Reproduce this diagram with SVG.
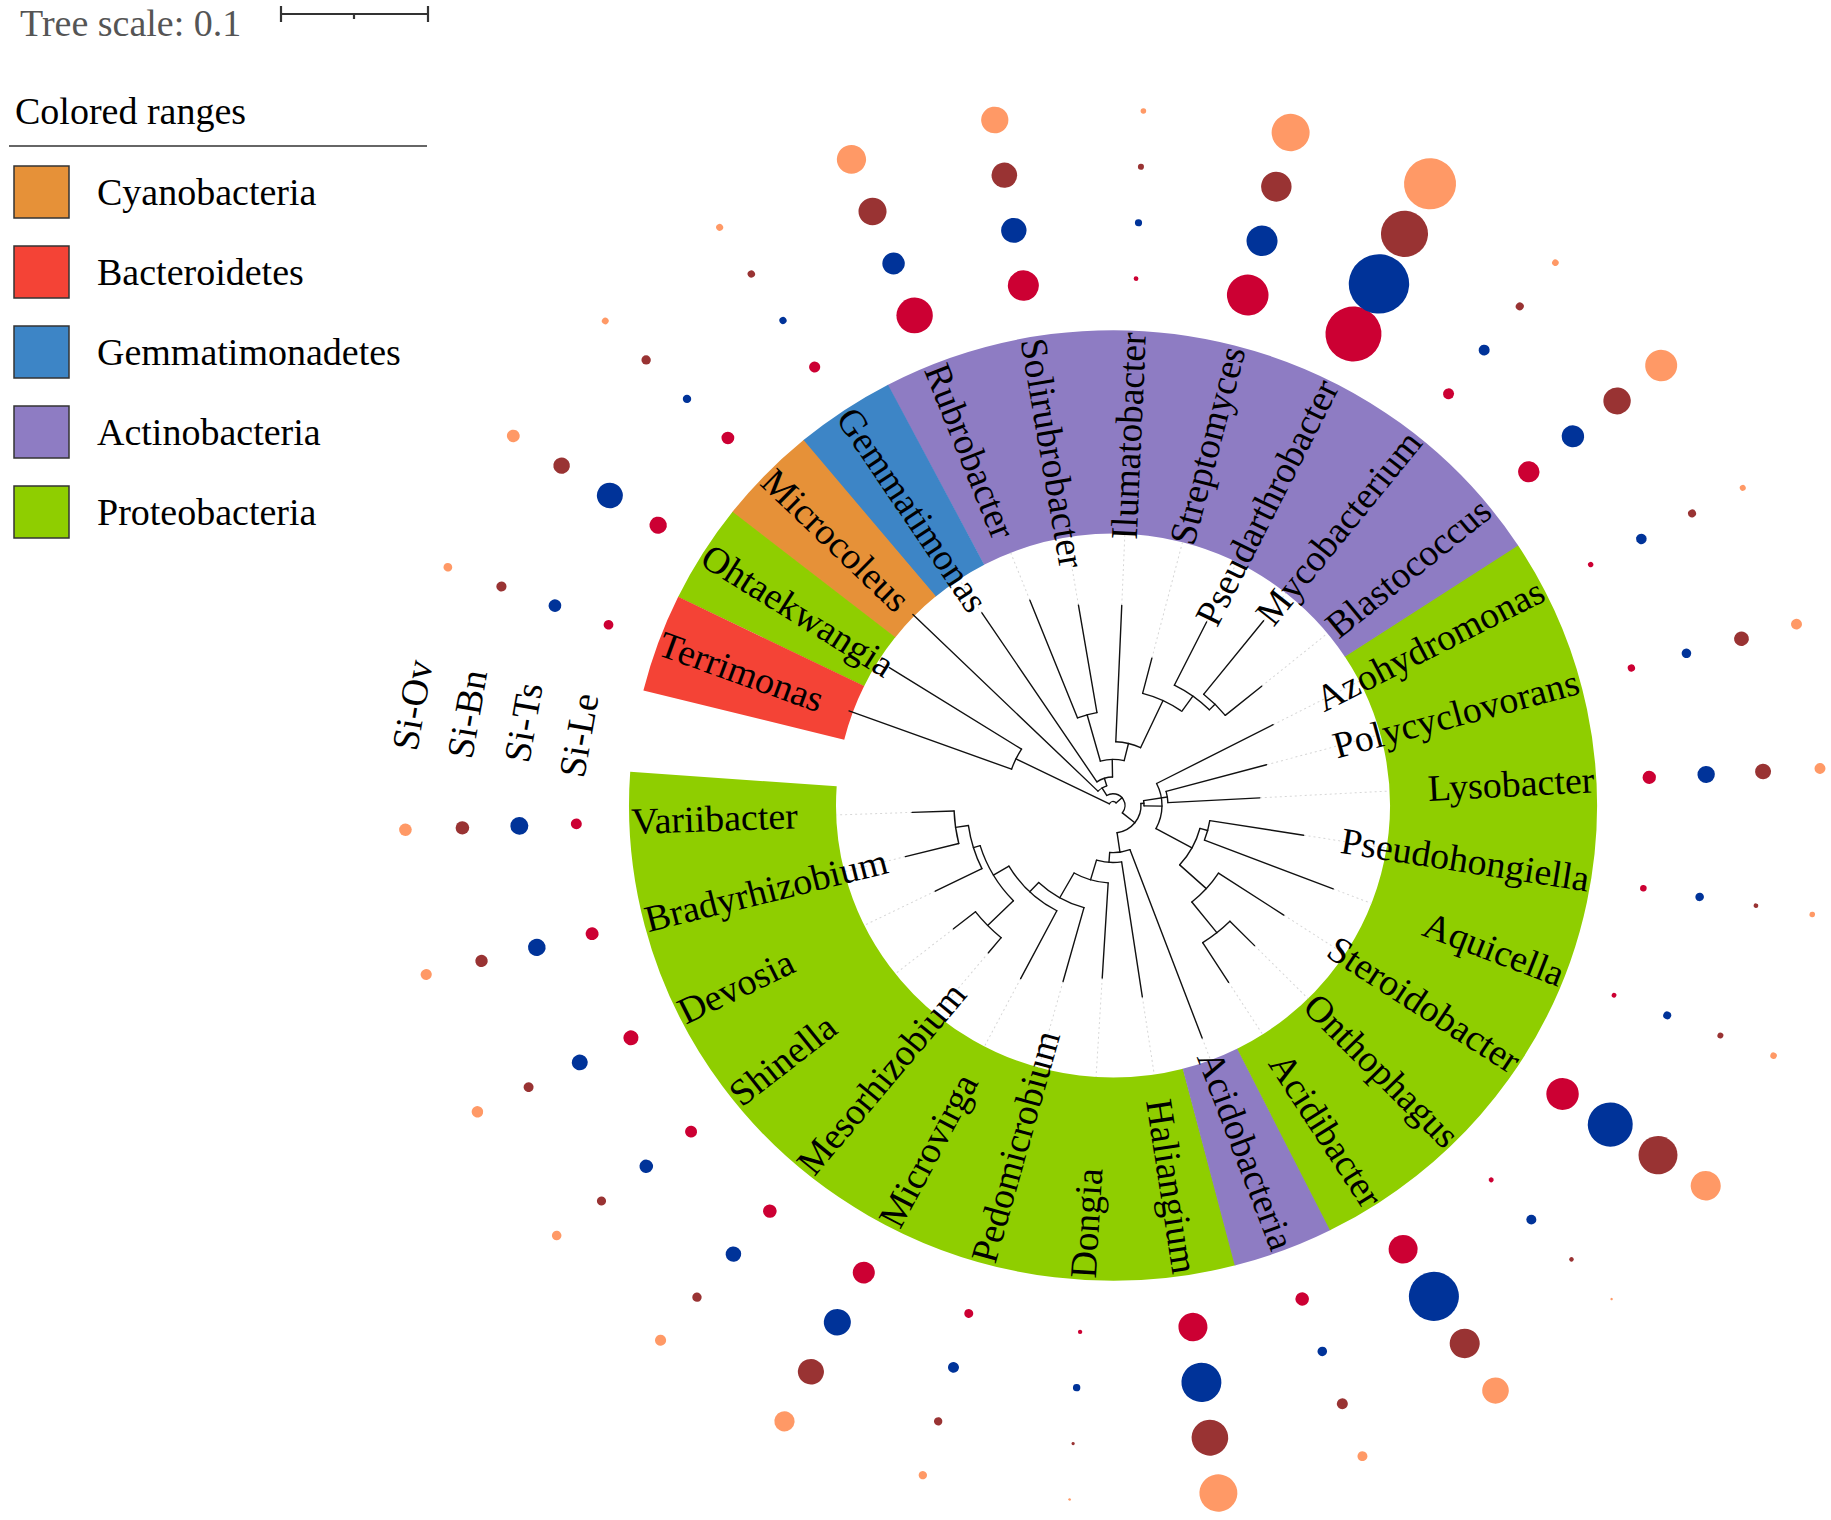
<svg xmlns="http://www.w3.org/2000/svg" width="1831" height="1520" viewBox="0 0 1831 1520">
<style>
text{font-family:"Liberation Serif","Times New Roman",serif;font-size:38px;fill:#000}
.r{text-anchor:end}
.le{fill:#cc0033}.ts{fill:#003399}.bn{fill:#993333}.ov{fill:#ff9966}
#connectors line,#connectors circle{fill:none;stroke:#111;stroke-width:1.4;stroke-linecap:round}
.rg{fill:none;stroke-width:207}
#guides line{stroke:#d6d6d6;stroke-width:1;stroke-dasharray:2 3}
.box{stroke:#333;stroke-width:1.5}
</style>
<rect width="1831" height="1520" fill="#fff"/>
<g id="tree-scale">
<text x="20" y="36" font-size="37" style="fill:#555">Tree scale: 0.1</text>
<path d="M281 14H428M281 6V22M428 6V22M354 14V19" stroke="#333" stroke-width="2.2" fill="none"/>
</g>
<g id="legend">
<text x="15" y="124">Colored ranges</text>
<line x1="9" y1="146" x2="427" y2="146" stroke="#333" stroke-width="1.5"/>
<rect class="box" x="14" y="166" width="55" height="52" fill="#e69138"/>
<text x="97" y="205">Cyanobacteria</text>
<rect class="box" x="14" y="246" width="55" height="52" fill="#f44336"/>
<text x="97" y="285">Bacteroidetes</text>
<rect class="box" x="14" y="326" width="55" height="52" fill="#3d85c6"/>
<text x="97" y="365">Gemmatimonadetes</text>
<rect class="box" x="14" y="406" width="55" height="52" fill="#8e7cc3"/>
<text x="97" y="445">Actinobacteria</text>
<rect class="box" x="14" y="486" width="55" height="52" fill="#8fce00"/>
<text x="97" y="525">Proteobacteria</text>
</g>
<g id="si-labels">
<text transform="translate(417,752) rotate(-80)">Si-Ov</text>
<text transform="translate(472,760) rotate(-80)">Si-Bn</text>
<text transform="translate(529,764) rotate(-80)">Si-Ts</text>
<text transform="translate(584,779) rotate(-80)">Si-Le</text>
</g>
<g transform="translate(1113,805.5) scale(1,0.982)">
<g id="ranges">
<circle class="rg" r="380.5" pathLength="360" stroke="#8fce00" stroke-dasharray="108.73 400" transform="rotate(75.35)"/>
<circle class="rg" r="380.5" pathLength="360" stroke="#8e7cc3" stroke-dasharray="12.17 400" transform="rotate(63.28)"/>
<circle class="rg" r="380.5" pathLength="360" stroke="#8fce00" stroke-dasharray="96.65 400" transform="rotate(-33.27)"/>
<circle class="rg" r="380.5" pathLength="360" stroke="#8e7cc3" stroke-dasharray="84.59 400" transform="rotate(-117.76)"/>
<circle class="rg" r="380.5" pathLength="360" stroke="#3d85c6" stroke-dasharray="12.17 400" transform="rotate(-129.85)"/>
<circle class="rg" r="380.5" pathLength="360" stroke="#e69138" stroke-dasharray="12.17 400" transform="rotate(-141.9)"/>
<circle class="rg" r="380.5" pathLength="360" stroke="#8fce00" stroke-dasharray="12.17 400" transform="rotate(-153.97)"/>
<circle class="rg" r="380.5" pathLength="360" stroke="#f44336" stroke-dasharray="12.07 400" transform="rotate(-166)"/>
</g>
<g id="guides">
<line x1="201" x2="277" transform="rotate(178)"/>
<line x1="214" x2="277" transform="rotate(165.93)"/>
<line x1="198" x2="277" transform="rotate(153.86)"/>
<line x1="203" x2="277" transform="rotate(141.79)"/>
<line x1="195" x2="277" transform="rotate(129.72)"/>
<line x1="199" x2="277" transform="rotate(117.65)"/>
<line x1="186" x2="277" transform="rotate(105.58)"/>
<line x1="176" x2="277" transform="rotate(93.51)"/>
<line x1="197" x2="277" transform="rotate(81.44)"/>
<line x1="253" x2="277" transform="rotate(69.37)"/>
<line x1="214" x2="277" transform="rotate(57.3)"/>
<line x1="201" x2="277" transform="rotate(45.23)"/>
<line x1="204" x2="277" transform="rotate(33.16)"/>
<line x1="236" x2="277" transform="rotate(21.09)"/>
<line x1="193" x2="277" transform="rotate(9.02)"/>
<line x1="147" x2="277" transform="rotate(-3.05)"/>
<line x1="159" x2="277" transform="rotate(-15.12)"/>
<line x1="180" x2="277" transform="rotate(-27.19)"/>
<line x1="192" x2="277" transform="rotate(-39.26)"/>
<line x1="241" x2="277" transform="rotate(-51.33)"/>
<line x1="209" x2="277" transform="rotate(-63.4)"/>
<line x1="155" x2="277" transform="rotate(-75.47)"/>
<line x1="204" x2="277" transform="rotate(-87.54)"/>
<line x1="207" x2="277" transform="rotate(-99.61)"/>
<line x1="225" x2="277" transform="rotate(-111.68)"/>
<line x1="236" x2="277" transform="rotate(-123.75)"/>
<line x1="264" x2="277" transform="rotate(-147.89)"/>
</g>
<g id="connectors">
<line x1="159" x2="201" transform="rotate(178)"/>
<line x1="159" x2="214" transform="rotate(165.93)"/>
<line x1="146" x2="198" transform="rotate(153.86)"/>
<line x1="175" x2="203" transform="rotate(141.79)"/>
<line x1="175" x2="195" transform="rotate(129.72)"/>
<line x1="121" x2="199" transform="rotate(117.65)"/>
<line x1="108" x2="186" transform="rotate(105.58)"/>
<line x1="79" x2="176" transform="rotate(93.51)"/>
<line x1="58" x2="197" transform="rotate(81.44)"/>
<line x1="48" x2="253" transform="rotate(69.37)"/>
<line x1="166" x2="214" transform="rotate(57.3)"/>
<line x1="166" x2="201" transform="rotate(45.23)"/>
<line x1="126" x2="204" transform="rotate(33.16)"/>
<line x1="98" x2="236" transform="rotate(21.09)"/>
<line x1="98" x2="193" transform="rotate(9.02)"/>
<line x1="55" x2="147" transform="rotate(-3.05)"/>
<line x1="55" x2="159" transform="rotate(-15.12)"/>
<line x1="49" x2="180" transform="rotate(-27.19)"/>
<line x1="145" x2="192" transform="rotate(-39.26)"/>
<line x1="145" x2="241" transform="rotate(-51.33)"/>
<line x1="137" x2="209" transform="rotate(-63.4)"/>
<line x1="118" x2="155" transform="rotate(-75.47)"/>
<line x1="65" x2="204" transform="rotate(-87.54)"/>
<line x1="96" x2="207" transform="rotate(-99.61)"/>
<line x1="96" x2="225" transform="rotate(-111.68)"/>
<line x1="29" x2="236" transform="rotate(-123.75)"/>
<line x1="21" x2="279" transform="rotate(-135.82)"/>
<line x1="108" x2="264" transform="rotate(-147.89)"/>
<line x1="108" x2="281" transform="rotate(-159.96)"/>
<circle r="159" pathLength="360" stroke-dasharray="12.07 400" transform="rotate(165.93)"/>
<circle r="146" pathLength="360" stroke-dasharray="18.11 400" transform="rotate(153.86)"/>
<circle r="175" pathLength="360" stroke-dasharray="12.07 400" transform="rotate(129.72)"/>
<circle r="139" pathLength="360" stroke-dasharray="27.14 400" transform="rotate(135.76)"/>
<circle r="121" pathLength="360" stroke-dasharray="31.68 400" transform="rotate(117.65)"/>
<circle r="108" pathLength="360" stroke-dasharray="27.91 400" transform="rotate(105.58)"/>
<circle r="79" pathLength="360" stroke-dasharray="26.03 400" transform="rotate(93.51)"/>
<circle r="58" pathLength="360" stroke-dasharray="25.08 400" transform="rotate(81.44)"/>
<circle r="48" pathLength="360" stroke-dasharray="24.61 400" transform="rotate(69.37)"/>
<circle r="166" pathLength="360" stroke-dasharray="12.07 400" transform="rotate(45.23)"/>
<circle r="126" pathLength="360" stroke-dasharray="18.11 400" transform="rotate(33.16)"/>
<circle r="98" pathLength="360" stroke-dasharray="12.07 400" transform="rotate(9.02)"/>
<circle r="90" pathLength="360" stroke-dasharray="27.16 400" transform="rotate(15.05)"/>
<circle r="55" pathLength="360" stroke-dasharray="12.07 400" transform="rotate(-15.12)"/>
<circle r="49" pathLength="360" stroke-dasharray="55.82 400" transform="rotate(-27.19)"/>
<circle r="31" pathLength="360" stroke-dasharray="9.81 400" transform="rotate(-9.09)"/>
<circle r="28" pathLength="360" stroke-dasharray="85.86 400" transform="rotate(-4.18)"/>
<circle r="145" pathLength="360" stroke-dasharray="12.07 400" transform="rotate(-51.33)"/>
<circle r="137" pathLength="360" stroke-dasharray="18.1 400" transform="rotate(-63.4)"/>
<circle r="118" pathLength="360" stroke-dasharray="20.56 400" transform="rotate(-75.47)"/>
<circle r="65" pathLength="360" stroke-dasharray="22.63 400" transform="rotate(-87.54)"/>
<circle r="96" pathLength="360" stroke-dasharray="12.07 400" transform="rotate(-111.68)"/>
<circle r="47" pathLength="360" stroke-dasharray="29.42 400" transform="rotate(-105.65)"/>
<circle r="29" pathLength="360" stroke-dasharray="32.81 400" transform="rotate(-123.75)"/>
<circle r="21" pathLength="360" stroke-dasharray="28.47 400" transform="rotate(-135.82)"/>
<circle r="12" pathLength="360" stroke-dasharray="160.33 400" transform="rotate(-121.58)"/>
<circle r="108" pathLength="360" stroke-dasharray="12.07 400" transform="rotate(-159.96)"/>
<circle r="4" pathLength="360" stroke-dasharray="112.51 400" transform="rotate(-153.93)"/>
<line x1="146" x2="159" transform="rotate(171.97)"/>
<line x1="139" x2="146" transform="rotate(162.9)"/>
<line x1="139" x2="175" transform="rotate(135.76)"/>
<line x1="121" x2="139" transform="rotate(149.33)"/>
<line x1="108" x2="121" transform="rotate(133.49)"/>
<line x1="79" x2="108" transform="rotate(119.54)"/>
<line x1="58" x2="79" transform="rotate(106.52)"/>
<line x1="48" x2="58" transform="rotate(93.98)"/>
<line x1="28" x2="48" transform="rotate(81.68)"/>
<line x1="126" x2="166" transform="rotate(51.27)"/>
<line x1="90" x2="126" transform="rotate(42.21)"/>
<line x1="90" x2="98" transform="rotate(15.05)"/>
<line x1="49" x2="90" transform="rotate(28.63)"/>
<line x1="31" x2="55" transform="rotate(-9.09)"/>
<line x1="31" x2="49" transform="rotate(0.72)"/>
<line x1="28" x2="31" transform="rotate(-4.18)"/>
<line x1="12" x2="28" transform="rotate(38.75)"/>
<line x1="137" x2="145" transform="rotate(-45.3)"/>
<line x1="118" x2="137" transform="rotate(-54.35)"/>
<line x1="65" x2="118" transform="rotate(-64.91)"/>
<line x1="47" x2="65" transform="rotate(-76.23)"/>
<line x1="47" x2="96" transform="rotate(-105.65)"/>
<line x1="29" x2="47" transform="rotate(-90.94)"/>
<line x1="21" x2="29" transform="rotate(-107.35)"/>
<line x1="12" x2="21" transform="rotate(-121.58)"/>
<line x1="4" x2="12" transform="rotate(-41.42)"/>
<line x1="4" x2="108" transform="rotate(-153.93)"/>
</g>
<g id="leaves">
<g id="n-Variibacter" transform="rotate(178)"><text x="-482" dy=".32em" transform="rotate(180)">Variibacter</text><circle cx="537" r="5.5" class="le"/><circle cx="594" r="9" class="ts"/><circle cx="651" r="6.8" class="bn"/><circle cx="708" r="6.3" class="ov"/></g>
<g id="n-Bradyrhizobium" transform="rotate(165.93)"><text x="-482" dy=".32em" transform="rotate(180)">Bradyrhizobium</text><circle cx="537" r="6.5" class="le"/><circle cx="594" r="8.8" class="ts"/><circle cx="651" r="6.2" class="bn"/><circle cx="708" r="5.6" class="ov"/></g>
<g id="n-Devosia" transform="rotate(153.86)"><text x="-482" dy=".32em" transform="rotate(180)">Devosia</text><circle cx="537" r="7.6" class="le"/><circle cx="594" r="8" class="ts"/><circle cx="651" r="5" class="bn"/><circle cx="708" r="5.8" class="ov"/></g>
<g id="n-Shinella" transform="rotate(141.79)"><text x="-482" dy=".32em" transform="rotate(180)">Shinella</text><circle cx="537" r="6" class="le"/><circle cx="594" r="6.8" class="ts"/><circle cx="651" r="4.6" class="bn"/><circle cx="708" r="4.8" class="ov"/></g>
<g id="n-Mesorhizobium" transform="rotate(129.72)"><text x="-482" dy=".32em" transform="rotate(180)">Mesorhizobium</text><circle cx="537" r="6.8" class="le"/><circle cx="594" r="7.8" class="ts"/><circle cx="651" r="4.7" class="bn"/><circle cx="708" r="5.6" class="ov"/></g>
<g id="n-Microvirga" transform="rotate(117.65)"><text x="-482" dy=".32em" transform="rotate(180)">Microvirga</text><circle cx="537" r="11" class="le"/><circle cx="594" r="13.5" class="ts"/><circle cx="651" r="13" class="bn"/><circle cx="708" r="10.2" class="ov"/></g>
<g id="n-Pedomicrobium" transform="rotate(105.58)"><text x="-482" dy=".32em" transform="rotate(180)">Pedomicrobium</text><circle cx="537" r="4.5" class="le"/><circle cx="594" r="5.5" class="ts"/><circle cx="651" r="4.2" class="bn"/><circle cx="708" r="4.2" class="ov"/></g>
<g id="n-Dongia" transform="rotate(93.51)"><text x="-482" dy=".32em" transform="rotate(180)">Dongia</text><circle cx="537" r="2.2" class="le"/><circle cx="594" r="3.7" class="ts"/><circle cx="651" r="1.6" class="bn"/><circle cx="708" r="1.3" class="ov"/></g>
<g id="n-Haliangium" transform="rotate(81.44)"><text x="482" dy=".32em" class="r">Haliangium</text><circle cx="537" r="14.5" class="le"/><circle cx="594" r="20" class="ts"/><circle cx="651" r="18.3" class="bn"/><circle cx="708" r="19" class="ov"/></g>
<g id="n-Acidobacteria" transform="rotate(69.37)"><text x="482" dy=".32em" class="r">Acidobacteria</text><circle cx="537" r="6.8" class="le"/><circle cx="594" r="4.8" class="ts"/><circle cx="651" r="5.5" class="bn"/><circle cx="708" r="5" class="ov"/></g>
<g id="n-Acidibacter" transform="rotate(57.3)"><text x="482" dy=".32em" class="r">Acidibacter</text><circle cx="537" r="14.5" class="le"/><circle cx="594" r="25" class="ts"/><circle cx="651" r="15" class="bn"/><circle cx="708" r="13.3" class="ov"/></g>
<g id="n-Onthophagus" transform="rotate(45.23)"><text x="482" dy=".32em" class="r">Onthophagus</text><circle cx="537" r="2.5" class="le"/><circle cx="594" r="5" class="ts"/><circle cx="651" r="2.3" class="bn"/><circle cx="708" r="1.2" class="ov"/></g>
<g id="n-Steroidobacter" transform="rotate(33.16)"><text x="482" dy=".32em" class="r">Steroidobacter</text><circle cx="537" r="16.2" class="le"/><circle cx="594" r="22.5" class="ts"/><circle cx="651" r="19.5" class="bn"/><circle cx="708" r="15" class="ov"/></g>
<g id="n-Aquicella" transform="rotate(21.09)"><text x="482" dy=".32em" class="r">Aquicella</text><circle cx="537" r="2.4" class="le"/><circle cx="594" r="4" class="ts"/><circle cx="651" r="3" class="bn"/><circle cx="708" r="3.3" class="ov"/></g>
<g id="n-Pseudohongiella" transform="rotate(9.02)"><text x="482" dy=".32em" class="r">Pseudohongiella</text><circle cx="537" r="3.3" class="le"/><circle cx="594" r="4.3" class="ts"/><circle cx="651" r="2.4" class="bn"/><circle cx="708" r="2.8" class="ov"/></g>
<g id="n-Lysobacter" transform="rotate(-3.05)"><text x="482" dy=".32em" class="r">Lysobacter</text><circle cx="537" r="6.7" class="le"/><circle cx="594" r="8.7" class="ts"/><circle cx="651" r="8" class="bn"/><circle cx="708" r="5.5" class="ov"/></g>
<g id="n-Polycyclovorans" transform="rotate(-15.12)"><text x="482" dy=".32em" class="r">Polycyclovorans</text><circle cx="537" r="3.7" class="le"/><circle cx="594" r="4.8" class="ts"/><circle cx="651" r="7.4" class="bn"/><circle cx="708" r="5.5" class="ov"/></g>
<g id="n-Azohydromonas" transform="rotate(-27.19)"><text x="482" dy=".32em" class="r">Azohydromonas</text><circle cx="537" r="2.7" class="le"/><circle cx="594" r="5.3" class="ts"/><circle cx="651" r="4" class="bn"/><circle cx="708" r="3" class="ov"/></g>
<g id="n-Blastococcus" transform="rotate(-39.26)"><text x="482" dy=".32em" class="r">Blastococcus</text><circle cx="537" r="10.7" class="le"/><circle cx="594" r="11.2" class="ts"/><circle cx="651" r="13.7" class="bn"/><circle cx="708" r="16" class="ov"/></g>
<g id="n-Mycobacterium" transform="rotate(-51.33)"><text x="482" dy=".32em" class="r">Mycobacterium</text><circle cx="537" r="5.5" class="le"/><circle cx="594" r="5.5" class="ts"/><circle cx="651" r="4" class="bn"/><circle cx="708" r="3.3" class="ov"/></g>
<g id="n-Pseudarthrobacter" transform="rotate(-63.4)"><text x="482" dy=".32em" class="r">Pseudarthrobacter</text><circle cx="537" r="28" class="le"/><circle cx="594" r="30.2" class="ts"/><circle cx="651" r="23.5" class="bn"/><circle cx="708" r="26" class="ov"/></g>
<g id="n-Streptomyces" transform="rotate(-75.47)"><text x="482" dy=".32em" class="r">Streptomyces</text><circle cx="537" r="20.8" class="le"/><circle cx="594" r="15.5" class="ts"/><circle cx="651" r="15.2" class="bn"/><circle cx="708" r="19" class="ov"/></g>
<g id="n-Ilumatobacter" transform="rotate(-87.54)"><text x="482" dy=".32em" class="r">Ilumatobacter</text><circle cx="537" r="2.4" class="le"/><circle cx="594" r="3.6" class="ts"/><circle cx="651" r="3" class="bn"/><circle cx="708" r="2.8" class="ov"/></g>
<g id="n-Solirubrobacter" transform="rotate(-99.61)"><text x="-482" dy=".32em" transform="rotate(180)">Solirubrobacter</text><circle cx="537" r="15.5" class="le"/><circle cx="594" r="12.7" class="ts"/><circle cx="651" r="12.8" class="bn"/><circle cx="708" r="13.6" class="ov"/></g>
<g id="n-Rubrobacter" transform="rotate(-111.68)"><text x="-482" dy=".32em" transform="rotate(180)">Rubrobacter</text><circle cx="537" r="18.2" class="le"/><circle cx="594" r="11.2" class="ts"/><circle cx="651" r="14" class="bn"/><circle cx="708" r="14.6" class="ov"/></g>
<g id="n-Gemmatimonas" transform="rotate(-123.75)"><text x="-482" dy=".32em" transform="rotate(180)">Gemmatimonas</text><circle cx="537" r="5.6" class="le"/><circle cx="594" r="3.6" class="ts"/><circle cx="651" r="3.7" class="bn"/><circle cx="708" r="3.5" class="ov"/></g>
<g id="n-Microcoleus" transform="rotate(-135.82)"><text x="-482" dy=".32em" transform="rotate(180)">Microcoleus</text><circle cx="537" r="6.4" class="le"/><circle cx="594" r="4.2" class="ts"/><circle cx="651" r="4.7" class="bn"/><circle cx="708" r="3.4" class="ov"/></g>
<g id="n-Ohtaekwangia" transform="rotate(-147.89)"><text x="-482" dy=".32em" transform="rotate(180)">Ohtaekwangia</text><circle cx="537" r="8.7" class="le"/><circle cx="594" r="13" class="ts"/><circle cx="651" r="8.3" class="bn"/><circle cx="708" r="6.4" class="ov"/></g>
<g id="n-Terrimonas" transform="rotate(-159.96)"><text x="-482" dy=".32em" transform="rotate(180)">Terrimonas</text><circle cx="537" r="4.9" class="le"/><circle cx="594" r="6.4" class="ts"/><circle cx="651" r="5.1" class="bn"/><circle cx="708" r="4.4" class="ov"/></g>
</g>
</g>
</svg>
